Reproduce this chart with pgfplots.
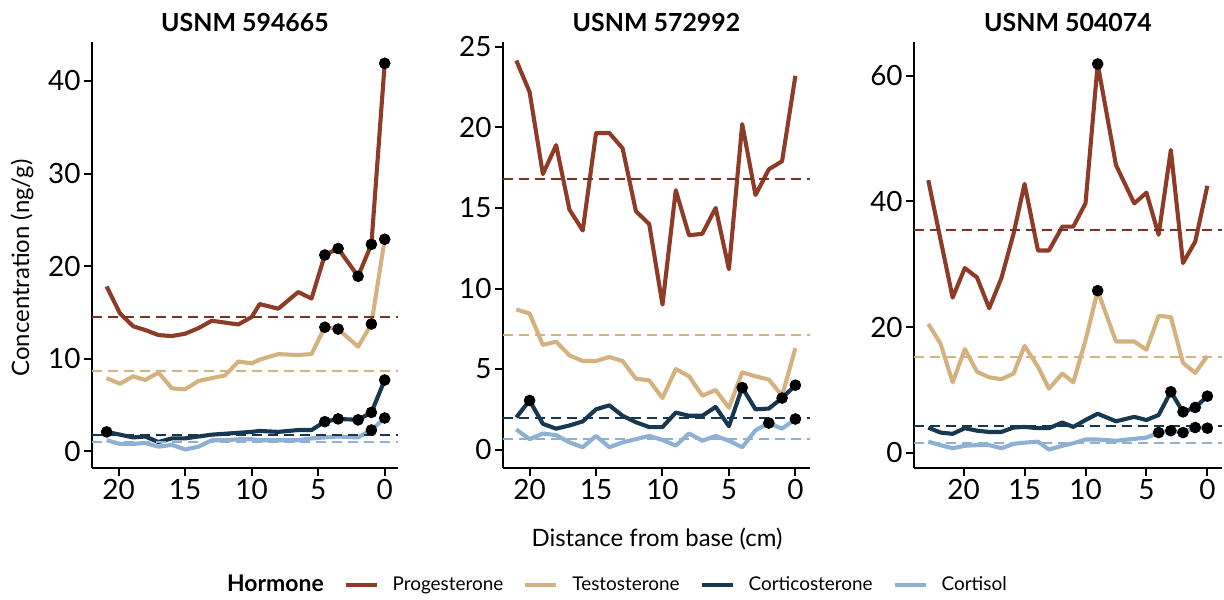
\documentclass[border=0pt]{standalone}
\usepackage{fontspec}
\setmainfont{Lato}
\usepackage{pgfplots}
\usepackage{pgfplotstable}
\pgfplotsset{compat=1.18}

\definecolor{progc}{RGB}{142,60,40}
\definecolor{testc}{RGB}{212,178,128}
\definecolor{cortc}{RGB}{24,56,82}
\definecolor{cslc}{RGB}{142,176,210}

% Panel 1: USNM 594665
\pgfplotstableread{
d prog test cort cortisol
20.9 17.8 7.9 2.1 1.2
19.9 14.9 7.3 1.8 0.8
18.9 13.5 8.1 1.5 0.8
18.0 13.1 7.7 1.6 0.9
17.0 12.55 8.5 1.0 0.5
16.0 12.45 6.8 1.4 0.7
15.0 12.7 6.7 1.4 0.2
14.0 13.3 7.6 1.6 0.5
13.0 14.1 7.9 1.8 1.2
12.0 13.9 8.2 1.9 1.2
11.0 13.7 9.7 2.0 1.3
10.0 14.5 9.5 2.1 1.3
9.4 15.9 9.9 2.2 1.2
8.0 15.4 10.5 2.1 1.2
6.5 17.2 10.4 2.3 1.2
5.5 16.5 10.5 2.3 1.4
4.5 21.2 13.4 3.2 1.5
3.5 21.9 13.2 3.5 1.6
2.0 18.9 11.3 3.4 1.5
1.0 22.35 13.75 4.2 2.3
0.0 41.9 22.9 7.7 3.6
}\tA
\pgfplotstableread{
d v
4.5 21.2
3.5 21.9
2.0 18.9
1.0 22.35
0.0 41.9
4.5 13.4
3.5 13.2
1.0 13.75
0.0 22.9
20.9 2.1
4.5 3.2
3.5 3.5
2.0 3.4
1.0 4.2
0.0 7.7
1.0 2.3
0.0 3.6
}\dA

% Panel 2: USNM 572992
\pgfplotstableread{
d prog test cort cortisol
21 24.15 8.7 2.0 1.25
20 22.2 8.45 3.05 0.65
19 17.1 6.5 1.6 1.0
18 18.9 6.7 1.3 0.9
17 14.9 5.85 1.5 0.45
16 13.6 5.5 1.75 0.15
15 19.65 5.5 2.5 0.85
14 19.65 5.75 2.75 0.15
13 18.7 5.5 2.1 0.45
12 14.8 4.4 1.7 0.65
11 14.0 4.3 1.4 0.85
10 9.0 3.2 1.4 0.6
9 16.1 5.0 2.3 0.25
8 13.3 4.55 2.1 1.0
7 13.4 3.35 2.1 0.55
6 15.0 3.7 2.65 0.85
5 11.2 2.6 1.45 0.55
4 20.2 4.8 3.85 0.15
3 15.8 4.55 2.5 1.2
2 17.4 4.35 2.55 1.65
1 17.9 3.35 3.2 1.3
0 23.2 6.3 4.0 1.9
}\tB
\pgfplotstableread{
d v
20 3.05
4 3.85
1 3.2
0 4.0
2 1.65
0 1.9
}\dB

% Panel 3: USNM 504074
\pgfplotstableread{
d prog test cort cortisol
22.9 43.4 20.5 4.0 1.75
21.9 34.0 17.4 3.2 1.2
20.9 24.7 11.2 3.0 0.7
19.9 29.4 16.5 3.9 1.1
18.9 27.9 12.9 3.5 1.2
17.9 23.0 12.0 3.3 1.2
16.9 27.8 11.7 3.3 0.7
15.9 34.9 12.6 4.0 1.4
15.0 42.8 17.0 4.1 1.6
13.9 32.2 13.7 3.9 1.75
13.0 32.2 10.2 3.9 0.5
11.9 36.0 12.6 4.8 1.1
11.0 36.0 11.2 4.1 1.5
10.0 39.7 17.9 5.2 2.1
9.0 61.9 25.8 6.2 2.1
7.5 45.8 17.7 5.0 1.9
6.0 39.7 17.7 5.7 2.2
5.0 41.4 16.4 5.2 2.4
4.0 34.7 21.8 6.0 3.2
3.0 48.2 21.6 9.7 3.5
2.0 30.2 14.3 6.5 3.2
1.0 33.6 12.7 7.2 4.0
0.0 42.5 15.4 9.0 3.9
}\tC
\pgfplotstableread{
d v
9 61.9
9 25.8
3 9.7
2 6.5
1 7.2
0 9.0
4 3.2
3 3.5
2 3.2
1 4.0
0 3.9
}\dC

\pgfplotsset{
  hpanel/.style={
    scale only axis, height=213bp,
    axis x line*=bottom, axis y line*=left,
    axis line style={-, line width=1bp, black},
    every tick/.style={black, line width=1bp},
    major tick length=4bp,
    tick align=outside,
    xtick={-20,-15,-10,-5,0}, xticklabels={20,15,10,5,0},
    tick label style={font=\fontsize{14}{16}\selectfont, inner sep=1.5bp},
    /pgf/number format/assume math mode=true,
    title style={at={(0.5,1)}, anchor=center, yshift=4bp, font=\bfseries\fontsize{12.5}{15}\selectfont},
    legend image code/.code={\draw[##1, line width=2bp] (0bp,0bp) -- (15.5bp,0bp);},
  },
  dline/.style={line width=2.05bp, line join=round, forget plot},
  mline/.style={line width=0.85bp, dash pattern=on 5bp off 3bp, forget plot},
  dots/.style={only marks, mark=*, mark size=2.7bp, black, forget plot},
}

\begin{document}
\begin{tikzpicture}
\path[use as bounding box] (0,0) rectangle (612bp,300bp);

% ---------- Panel 1 ----------
\begin{axis}[hpanel, at={(46bp,66bp)}, anchor=south west, width=153bp,
  xmin=-22, xmax=1.0, ymin=-1.8, ymax=44.2,
  ytick={0,10,20,30,40}, title={USNM 594665}]
\addplot[dline, progc] table[x expr=-\thisrow{d}, y=prog] \tA;
\addplot[dline, testc] table[x expr=-\thisrow{d}, y=test] \tA;
\addplot[dline, cslc] table[x expr=-\thisrow{d}, y=cortisol] \tA;
\addplot[dline, cortc] table[x expr=-\thisrow{d}, y=cort] \tA;
\addplot[mline, progc!85!black] coordinates {(-22,14.5) (1.0,14.5)};
\addplot[mline, testc] coordinates {(-22,8.7) (1.0,8.7)};
\addplot[mline, cortc] coordinates {(-22,1.8) (1.0,1.8)};
\addplot[mline, cslc] coordinates {(-22,1.0) (1.0,1.0)};
\addplot[dots] table[x expr=-\thisrow{d}, y=v] \dA;
\end{axis}

% ---------- Panel 2 ----------
\begin{axis}[hpanel, at={(251.5bp,66bp)}, anchor=south west, width=153.5bp,
  xmin=-22, xmax=1.1, ymin=-1.14, ymax=25.3,
  ytick={0,5,10,15,20,25}, title={USNM 572992},
  legend columns=-1,
  legend style={at={(0.355,-0.2746)}, anchor=center, draw=none, fill=none,
    font=\fontsize{9.5}{11}\selectfont, inner sep=0pt,
    /tikz/every odd column/.append style={column sep=5bp},
    /tikz/every even column/.append style={column sep=8bp}}]
\addlegendimage{empty legend}
\addlegendentry{\fontsize{11.5}{13}\selectfont\bfseries Hormone}
\addlegendimage{progc}
\addlegendentry{Progesterone}
\addlegendimage{testc}
\addlegendentry{Testosterone}
\addlegendimage{cortc}
\addlegendentry{Corticosterone}
\addlegendimage{cslc}
\addlegendentry{Cortisol}
\addplot[dline, progc] table[x expr=-\thisrow{d}, y=prog] \tB;
\addplot[dline, testc] table[x expr=-\thisrow{d}, y=test] \tB;
\addplot[dline, cslc] table[x expr=-\thisrow{d}, y=cortisol] \tB;
\addplot[dline, cortc] table[x expr=-\thisrow{d}, y=cort] \tB;
\addplot[mline, progc!85!black] coordinates {(-22,16.8) (1.1,16.8)};
\addplot[mline, testc] coordinates {(-22,7.1) (1.1,7.1)};
\addplot[mline, cortc] coordinates {(-22,1.95) (1.1,1.95)};
\addplot[mline, cslc] coordinates {(-22,0.65) (1.1,0.65)};
\addplot[dots] table[x expr=-\thisrow{d}, y=v] \dB;
\end{axis}

% ---------- Panel 3 ----------
\begin{axis}[hpanel, at={(457bp,66bp)}, anchor=south west, width=154bp,
  xmin=-24.07, xmax=1.2, ymin=-2.44, ymax=65.4,
  ytick={0,20,40,60}, title={USNM 504074}]
\addplot[dline, progc] table[x expr=-\thisrow{d}, y=prog] \tC;
\addplot[dline, testc] table[x expr=-\thisrow{d}, y=test] \tC;
\addplot[dline, cslc] table[x expr=-\thisrow{d}, y=cortisol] \tC;
\addplot[dline, cortc] table[x expr=-\thisrow{d}, y=cort] \tC;
\addplot[mline, progc!85!black] coordinates {(-24.07,35.5) (1.2,35.5)};
\addplot[mline, testc] coordinates {(-24.07,15.2) (1.2,15.2)};
\addplot[mline, cortc] coordinates {(-24.07,4.25) (1.2,4.25)};
\addplot[mline, cslc] coordinates {(-24.07,1.5) (1.2,1.5)};
\addplot[dots] table[x expr=-\thisrow{d}, y=v] \dC;
\end{axis}

\node[rotate=90, font=\fontsize{12}{14}\selectfont] at (11bp,166bp) {Concentration (ng/g)};
\node[font=\fontsize{12}{14}\selectfont] at (328.5bp,30.5bp) {Distance from base (cm)};
\end{tikzpicture}
\end{document}
